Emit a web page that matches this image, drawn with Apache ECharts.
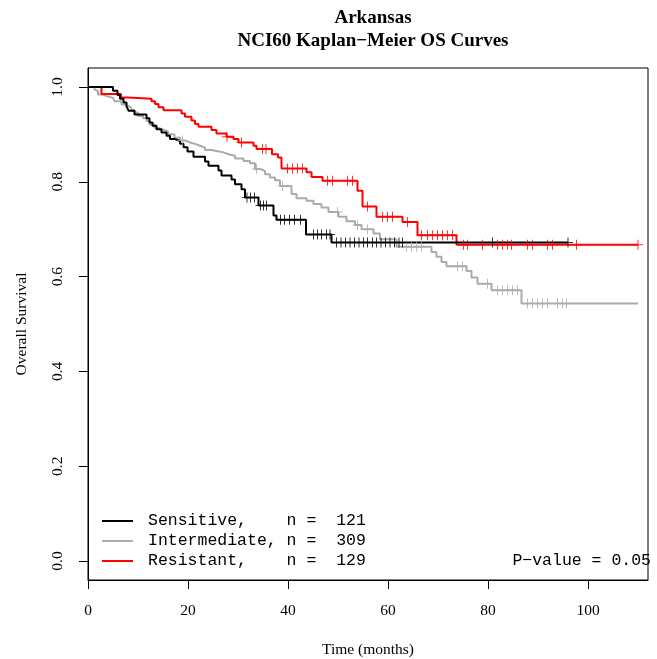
<!DOCTYPE html>
<html>
<head>
<meta charset="utf-8">
<script src="https://cdn.jsdelivr.net/npm/echarts@6/dist/echarts.min.js"></script>
<style>
  html, body { margin: 0; padding: 0; background: #fff; }
  #chart { width: 657px; height: 659px; }
</style>
</head>
<body>
<div id="chart"></div>
<script>
const groupNames = ['Sensitive', 'Intermediate', 'Resistant']
const groupN = [121, 309, 129]
const groupColors = ['#000000', '#ababab', '#ff0000']
const pValue = '0.05'

const xTicks = [0, 20, 40, 60, 80, 100]
const yTicks = [0, 0.2, 0.4, 0.6, 0.8, 1.0]

// Sensitive: step times (months) and survival after each step
const sensTime = [0, 5.0, 5.9, 6.4, 7.1, 7.7, 8.1, 9.3, 11.7, 12.3, 12.9, 13.7, 14.7, 15.7, 16.4, 17.4, 18.4, 19.1, 19.9, 21.1,
  23.4, 24.1, 26.1, 26.7, 28.7, 29.4, 30.7, 31.4, 34.1, 37.1, 37.7, 43.6, 48.7]
const sensSurv = [1.0, 0.992, 0.983, 0.975, 0.967, 0.959, 0.950, 0.942, 0.934, 0.925, 0.918, 0.911, 0.904, 0.897, 0.890, 0.886, 0.880, 0.873, 0.864, 0.853,
  0.843, 0.834, 0.824, 0.813, 0.805, 0.795, 0.784, 0.767, 0.750, 0.729, 0.720, 0.689, 0.672]
const sensEnd = 96.0
const sensCensor = [31.8, 32.5, 33.3, 34.5, 35.1, 35.7, 38.5, 39.3, 40.3, 41.3, 42.5, 45.1, 45.9, 46.7, 47.7, 48.4,
  49.7, 50.6, 51.5, 52.4, 53.3, 54.2, 55.1, 55.9, 56.9, 57.7, 58.6, 59.5, 60.4, 61.3, 62.2, 62.9, 80.9, 96.0]

// Intermediate
const interTime = [0, 1.3, 1.7, 2.0, 3.0, 3.7, 5.0, 5.3, 6.7, 7.3, 8.0, 8.7, 9.3, 10.0, 11.0, 11.7, 12.3, 13.3, 14.0, 15.0,
  16.0, 17.3, 18.4, 19.4, 20.4, 21.4, 22.4, 23.4, 24.7, 25.7, 27.1, 28.1, 29.4, 31.1, 32.4, 33.4, 34.4, 35.4, 36.4, 37.4,
  38.4, 40.7, 41.7, 43.7, 45.1, 46.7, 48.1, 50.1, 51.7, 53.4, 54.7, 57.1, 58.4, 61.7,
  68.7, 69.7, 70.7, 71.7, 75.7, 76.7, 77.9, 80.7, 86.7]
const interSurv = [1.0, 0.995, 0.991, 0.984, 0.981, 0.977, 0.974, 0.970, 0.963, 0.960, 0.956, 0.951, 0.946, 0.939, 0.934, 0.928, 0.921, 0.914, 0.910, 0.906,
  0.900, 0.893, 0.887, 0.883, 0.880, 0.876, 0.872, 0.867, 0.865, 0.862, 0.858, 0.855, 0.849, 0.844, 0.839, 0.827, 0.823, 0.816, 0.809, 0.803,
  0.791, 0.774, 0.765, 0.760, 0.753, 0.746, 0.736, 0.726, 0.717, 0.709, 0.700, 0.691, 0.679, 0.663,
  0.652, 0.642, 0.631, 0.622, 0.612, 0.598, 0.585, 0.571, 0.543]
const interEnd = 110
const interCensor = [18.9, 33.7, 38.9, 49.9, 53.9, 55.9, 63.7, 64.7, 65.7, 66.7, 73.9, 74.9, 79.9, 81.9, 82.9, 83.9, 84.9, 85.9,
  87.9, 88.9, 89.9, 90.9, 91.9, 93.9, 94.9, 95.7]

// Resistant
const resTime = [0, 2.7, 6.6, 8.0, 12.7, 13.4, 14.1, 15.1, 18.7, 19.4, 20.7, 21.4, 22.1, 24.7, 25.7, 27.7, 29.1, 30.1, 33.1, 33.7,
  36.8, 38.0, 38.7, 43.7, 44.7, 46.9, 53.9, 54.9, 57.7, 62.9, 65.9, 73.7]
const resSurv = [1.0, 0.985, 0.978, 0.975, 0.970, 0.964, 0.957, 0.951, 0.944, 0.937, 0.929, 0.922, 0.916, 0.909, 0.902, 0.895, 0.890, 0.883, 0.876, 0.869,
  0.858, 0.851, 0.828, 0.820, 0.810, 0.802, 0.781, 0.748, 0.726, 0.715, 0.687, 0.667]
const resEnd = 110
const resCensor = [27.8, 30.7, 34.9, 35.6, 39.9, 40.9, 41.9, 42.9, 47.9, 48.9, 51.9, 52.9, 55.9, 58.9, 59.9, 60.9, 63.9,
  66.7, 67.9, 68.9, 69.9, 70.9, 71.9, 72.9, 75.1, 75.9, 78.9, 81.9, 82.9, 83.9, 84.7, 87.9, 88.9, 91.9, 92.9, 97.7, 110]

const curves = [
  { time: sensTime, surv: sensSurv, end: sensEnd, censor: sensCensor },
  { time: interTime, surv: interSurv, end: interEnd, censor: interCensor },
  { time: resTime, surv: resSurv, end: resEnd, censor: resCensor }
]

const serif = 'Liberation Serif'
const mono = 'Liberation Mono'
const plusSymbol = 'path://M-1,-0.1L1,-0.1L1,0.1L-1,0.1ZM-0.1,-1L0.1,-1L0.1,1L-0.1,1Z'

function survAt(c, t) {
  let s = c.surv[0]
  for (let i = 0; i < c.time.length; i++) {
    if (c.time[i] <= t) s = c.surv[i]
  }
  return s
}

function stepData(c) {
  const d = c.time.map((t, i) => [t, c.surv[i]])
  d.push([c.end, c.surv[c.surv.length - 1]])
  return d
}

// draw order: gray, red, black (black on top)
const drawOrder = [1, 2, 0]
const series = []
drawOrder.forEach(g => {
  series.push({
    name: groupNames[g],
    type: 'line',
    step: 'end',
    showSymbol: false,
    silent: true,
    data: stepData(curves[g]),
    lineStyle: { width: 2, color: groupColors[g] },
    z: 2
  })
})
drawOrder.forEach(g => {
  series.push({
    name: groupNames[g] + ' censored',
    type: 'scatter',
    symbol: plusSymbol,
    symbolSize: 10,
    silent: true,
    data: curves[g].censor.map(t => [t, survAt(curves[g], t)]),
    itemStyle: { color: groupColors[g] },
    z: 3
  })
})

const legendRows = [521, 541, 561]
const graphic = []
groupNames.forEach((name, i) => {
  graphic.push({
    type: 'line',
    shape: { x1: 102, y1: legendRows[i], x2: 133, y2: legendRows[i] },
    style: { stroke: groupColors[i], lineWidth: 2 }
  })
  graphic.push({
    type: 'text',
    x: 148,
    y: legendRows[i],
    style: {
      text: (name + ',').padEnd(14) + 'n =  ' + groupN[i],
      font: '16.5px "' + mono + '"',
      fill: '#000',
      verticalAlign: 'middle',
      align: 'left'
    }
  })
})
graphic.push({
  type: 'text',
  x: 651,
  y: legendRows[2],
  style: {
    text: 'P\u2212value = ' + pValue,
    font: '16.5px "' + mono + '"',
    fill: '#000',
    verticalAlign: 'middle',
    align: 'right'
  }
})

const chart = echarts.init(document.getElementById('chart'))
chart.setOption({
  animation: false,
  backgroundColor: '#fff',
  title: {
    text: 'Arkansas\nNCI60 Kaplan\u2212Meier OS Curves',
    left: 368,
    top: 2,
    textAlign: 'center',
    textStyle: { fontFamily: serif, fontWeight: 'bold', fontSize: 19, lineHeight: 23, color: '#000' }
  },
  grid: {
    left: 88,
    right: 9,
    top: 68,
    bottom: 79,
    outerBoundsMode: 'none',
    containLabel: false,
    show: true,
    borderColor: '#000',
    borderWidth: 1
  },
  xAxis: {
    type: 'value',
    min: 0,
    max: 112,
    name: 'Time (months)',
    nameLocation: 'middle',
    nameGap: 62,
    nameTextStyle: { fontFamily: serif, fontSize: 15.5, color: '#000' },
    axisLine: { show: true, onZero: false, lineStyle: { color: '#000', width: 1 } },
    axisTick: { show: true, length: 9, customValues: xTicks, lineStyle: { color: '#000' } },
    axisLabel: { customValues: xTicks, margin: 23, fontFamily: serif, fontSize: 15.5, color: '#000' },
    splitLine: { show: false }
  },
  yAxis: {
    type: 'value',
    min: -0.04,
    max: 1.04,
    name: 'Overall Survival',
    nameLocation: 'middle',
    nameGap: 58,
    nameTextStyle: { fontFamily: serif, fontSize: 15.5, color: '#000' },
    axisLine: { show: true, onZero: false, lineStyle: { color: '#000', width: 1 } },
    axisTick: { show: true, length: 9, customValues: yTicks, lineStyle: { color: '#000' } },
    axisLabel: {
      customValues: yTicks,
      rotate: 90,
      margin: 22,
      formatter: v => v.toFixed(1),
      fontFamily: serif,
      fontSize: 15.5,
      color: '#000'
    },
    splitLine: { show: false }
  },
  graphic: graphic,
  series: series
})
</script>
</body>
</html>
